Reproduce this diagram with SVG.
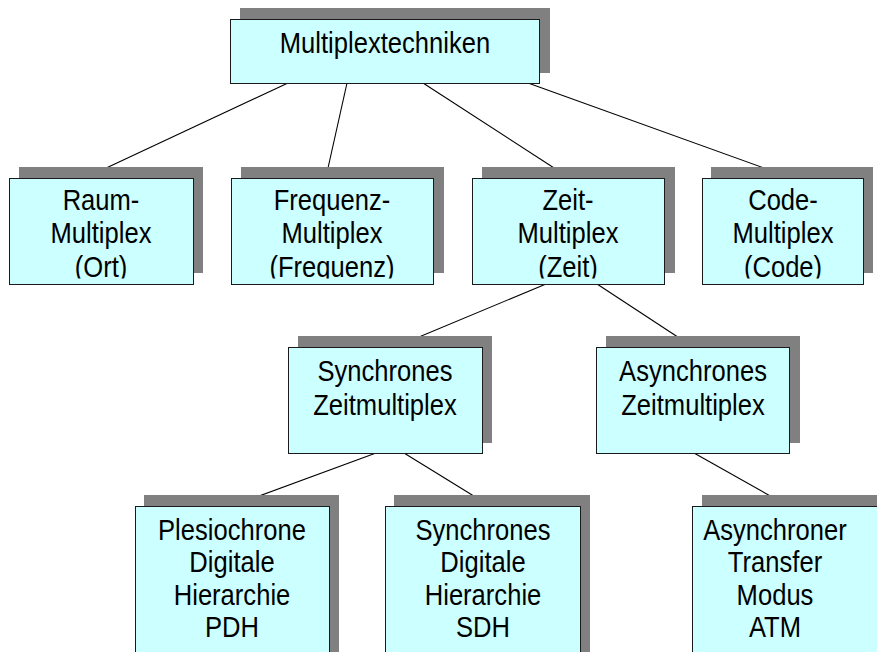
<svg xmlns="http://www.w3.org/2000/svg" width="877" height="652" viewBox="0 0 877 652">
  <defs>
    <style>
      .shadow { fill: #808080; }
      .box { fill: #ccffff; stroke: #1a1a1a; stroke-width: 1; }
      .lbl { font-family: "Liberation Sans", Arial, sans-serif; font-size: 25.6px; fill: #000; text-anchor: middle; }
      .conn line { stroke: #000; stroke-width: 1.1; }
    </style>
    <clipPath id="row2clip"><rect x="0" y="0" width="877" height="278.5"/></clipPath>
  </defs>
  <rect width="877" height="652" fill="#fff"/>

  <!-- tree edges -->
  <g id="connectors" class="conn">
    <line x1="288" y1="83" x2="87" y2="177"/>
    <line x1="347" y1="83" x2="326" y2="177"/>
    <line x1="423" y1="83" x2="568" y2="177"/>
    <line x1="528" y1="83" x2="789" y2="177"/>
    <line x1="546" y1="284" x2="395" y2="347"/>
    <line x1="597" y1="284" x2="693" y2="347"/>
    <line x1="376" y1="453" x2="232" y2="506"/>
    <line x1="404" y1="453" x2="490" y2="506"/>
    <line x1="694" y1="453" x2="788" y2="506"/>
  </g>

  <!-- root -->
  <g id="multiplextechniken">
    <rect class="shadow" x="240" y="8" width="310" height="65"/>
    <rect class="box" x="230.5" y="19.5" width="309" height="64"/>
    <g transform="translate(385 53) scale(1 1.12)"><text class="lbl">Multiplextechniken</text></g>
  </g>

  <!-- level 1 -->
  <g id="raum-multiplex">
    <rect class="shadow" x="19" y="167" width="184" height="106"/>
    <rect class="box" x="9.5" y="178.5" width="184" height="106"/>
    <g clip-path="url(#row2clip)"><g transform="translate(101 210) scale(1 1.12)"><text class="lbl"><tspan x="0" y="0">Raum-</tspan><tspan x="0" y="29.8">Multiplex</tspan><tspan x="0" y="59.6">(Ort)</tspan></text></g></g>
  </g>
  <g id="frequenz-multiplex">
    <rect class="shadow" x="241" y="167" width="203" height="106"/>
    <rect class="box" x="231.5" y="178.5" width="202" height="106"/>
    <g clip-path="url(#row2clip)"><g transform="translate(332 210) scale(1 1.12)"><text class="lbl"><tspan x="0" y="0">Frequenz-</tspan><tspan x="0" y="29.8">Multiplex</tspan><tspan x="0" y="59.6">(Frequenz)</tspan></text></g></g>
  </g>
  <g id="zeit-multiplex">
    <rect class="shadow" x="482" y="167" width="193" height="106"/>
    <rect class="box" x="472.5" y="178.5" width="192" height="106"/>
    <g clip-path="url(#row2clip)"><g transform="translate(568 210) scale(1 1.12)"><text class="lbl"><tspan x="0" y="0">Zeit-</tspan><tspan x="0" y="29.8">Multiplex</tspan><tspan x="0" y="59.6">(Zeit)</tspan></text></g></g>
  </g>
  <g id="code-multiplex">
    <rect class="shadow" x="711" y="167" width="162" height="106"/>
    <rect class="box" x="702.5" y="178.5" width="161" height="106"/>
    <g clip-path="url(#row2clip)"><g transform="translate(783 210) scale(1 1.12)"><text class="lbl"><tspan x="0" y="0">Code-</tspan><tspan x="0" y="29.8">Multiplex</tspan><tspan x="0" y="59.6">(Code)</tspan></text></g></g>
  </g>

  <!-- level 2 -->
  <g id="synchrones-zeitmultiplex">
    <rect class="shadow" x="298" y="336" width="194" height="107"/>
    <rect class="box" x="288.5" y="347.5" width="194" height="106"/>
    <g transform="translate(385 381) scale(1 1.12)"><text class="lbl"><tspan x="0" y="0">Synchrones</tspan><tspan x="0" y="30.5">Zeitmultiplex</tspan></text></g>
  </g>
  <g id="asynchrones-zeitmultiplex">
    <rect class="shadow" x="606" y="336" width="194" height="107"/>
    <rect class="box" x="596.5" y="347.5" width="193" height="106"/>
    <g transform="translate(693 381) scale(1 1.12)"><text class="lbl"><tspan x="0" y="0">Asynchrones</tspan><tspan x="0" y="30.5">Zeitmultiplex</tspan></text></g>
  </g>

  <!-- level 3 (runs off the bottom edge) -->
  <g id="pdh">
    <rect class="shadow" x="144" y="495" width="195" height="170"/>
    <rect class="box" x="135.5" y="506.5" width="194" height="170"/>
    <g transform="translate(232 540) scale(1 1.12)"><text class="lbl"><tspan x="0" y="0">Plesiochrone</tspan><tspan x="0" y="29">Digitale</tspan><tspan x="0" y="58">Hierarchie</tspan><tspan x="0" y="87">PDH</tspan></text></g>
  </g>
  <g id="sdh">
    <rect class="shadow" x="394" y="495" width="196" height="170"/>
    <rect class="box" x="385.5" y="506.5" width="195" height="170"/>
    <g transform="translate(483 540) scale(1 1.12)"><text class="lbl"><tspan x="0" y="0">Synchrones</tspan><tspan x="0" y="29">Digitale</tspan><tspan x="0" y="58">Hierarchie</tspan><tspan x="0" y="87">SDH</tspan></text></g>
  </g>
  <g id="atm">
    <rect class="shadow" x="702" y="495" width="195" height="170"/>
    <rect class="box" x="692.5" y="506.5" width="194" height="170"/>
    <g transform="translate(775 540) scale(1 1.12)"><text class="lbl"><tspan x="0" y="0">Asynchroner</tspan><tspan x="0" y="29">Transfer</tspan><tspan x="0" y="58">Modus</tspan><tspan x="0" y="87">ATM</tspan></text></g>
  </g>
</svg>
